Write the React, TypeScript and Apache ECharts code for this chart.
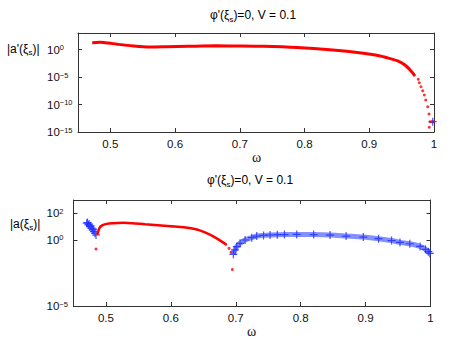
import React, { useEffect, useRef } from 'react';
import * as echarts from 'echarts';

// ---- tick values ----
const xTicks = [0.5, 0.6, 0.7, 0.8, 0.9, 1];
const topYTicks = [-15, -10, -5, 0]; // exponents of 10
const botYTicks = [-5, 0, 2];

// ---- top panel: |a'(xi_s)|, values stored as log10 ----
const topRedOmega = [0.472, 0.484, 0.497, 0.51, 0.535, 0.561, 0.587, 0.62, 0.664, 0.7, 0.736, 0.788, 0.839, 0.891, 0.917, 0.9243, 0.943, 0.9552, 0.9655, 0.9706];
const topRedLog = [1.24, 1.3, 1.18, 0.97, 0.64, 0.45, 0.5, 0.58, 0.66, 0.64, 0.58, 0.36, -0.05, -0.69, -1.18, -1.4, -2.04, -2.82, -4.04, -4.82];
const topTailOmega = [0.9757, 0.9773, 0.9799, 0.9825, 0.985, 0.9872, 0.9903, 0.9923, 0.9938, 0.9927, 0.9965, 0.998, 0.9995];
const topTailLog = [-5.42, -6.04, -6.76, -7.49, -8.27, -9.18, -10.4, -11.73, -13.13, -14.15, -13.13, -13.13, -13.13];
const topBlueOmega = [0.998];
const topBlueLog = [-13.13];

// ---- bottom panel: |a(xi_s)|, values stored as log10 ----
const botRedOmega = [0.4867, 0.4898, 0.4935, 0.5012, 0.5113, 0.5267, 0.54, 0.56, 0.58, 0.6, 0.62, 0.64, 0.6526, 0.668, 0.6784, 0.6861];
const botRedLog = [0.36, 0.87, 1.07, 1.2, 1.25, 1.28, 1.25, 1.17, 1.1, 1.02, 0.94, 0.77, 0.55, 0.18, -0.14, -0.39];
const botRedDotOmega = [0.4847, 0.6896, 0.6927, 0.6947];
const botRedDotLog = [-0.7, -0.65, -0.95, -2.24];
const botBlueLeftOmega = [0.4703, 0.4715, 0.4728, 0.474, 0.4754, 0.4766, 0.478, 0.4796, 0.4805, 0.4816, 0.4831, 0.4847];
const botBlueLeftLog = [1.25, 1.3, 1.12, 1.18, 0.99, 1.05, 0.87, 0.74, 0.8, 0.61, 0.49, 0.36];
const botBlueRightOmega = [0.6963, 0.6988, 0.7015, 0.7066, 0.7143, 0.7246, 0.7323, 0.7428, 0.7528, 0.764, 0.775, 0.7939, 0.82, 0.8452, 0.87, 0.8965, 0.92, 0.94, 0.953, 0.968, 0.984, 0.9923, 0.9967, 0.999];
const botBlueRightLog = [-1.1, -0.77, -0.52, -0.27, -0.02, 0.16, 0.28, 0.33, 0.36, 0.38, 0.39, 0.4, 0.39, 0.35, 0.28, 0.2, 0.08, -0.06, -0.2, -0.3, -0.5, -0.72, -0.9, -1.03];

const zip = (a: number[], b: number[]) => a.map((v, i) => [v, b[i]]);

const FONT = "'Liberation Sans', Arial, Helvetica, sans-serif";
const AXIS = '#333333';
const PLUS = 'path://M4.25,0H5.75V4.25H10V5.75H5.75V10H4.25V5.75H0V4.25H4.25Z';

const supRich = {
  b: { fontSize: 11.5, lineHeight: 12, verticalAlign: 'bottom', fontFamily: FONT, color: '#111' },
  s: { fontSize: 7.5, lineHeight: 2, verticalAlign: 'top', fontFamily: FONT, color: '#111' },
};
const subRich = {
  n: { fontSize: 12, lineHeight: 14, verticalAlign: 'top', fontFamily: FONT, color: '#111' },
  sub: { fontSize: 8, lineHeight: 2, verticalAlign: 'bottom', fontFamily: FONT, color: '#111' },
};

const expFmt = (v: number) => `{b|10}{s|${v < 0 ? '\u2212' + -v : v}}`;

function xAxis(grid: number, pos: 'top' | 'bottom', labels: boolean) {
  return {
    type: 'value', gridIndex: grid, position: pos, min: 0.45, max: 1,
    axisLine: { show: true, onZero: false, lineStyle: { color: AXIS, width: 1 } },
    axisTick: { show: true, inside: true, length: 4, customValues: xTicks, lineStyle: { color: AXIS } },
    axisLabel: { show: labels, customValues: xTicks, margin: 6, color: '#111', fontSize: 11.5, fontFamily: FONT },
    splitLine: { show: false },
  };
}

function yAxis(grid: number, pos: 'left' | 'right', labels: boolean, min: number, max: number, ticks: number[], margin: number) {
  return {
    type: 'value', gridIndex: grid, position: pos, min, max,
    axisLine: { show: true, onZero: false, lineStyle: { color: AXIS, width: 1 } },
    axisTick: { show: true, inside: true, length: 4, customValues: ticks, lineStyle: { color: AXIS } },
    axisLabel: { show: labels, customValues: ticks, margin, align: 'left', formatter: expFmt, rich: supRich },
    splitLine: { show: false },
  };
}

export default function App() {
  const ref = useRef<HTMLDivElement>(null);
  useEffect(() => {
    document.body.style.margin = '0';
    const chart = echarts.init(ref.current!, null, { renderer: 'svg' });
    const redDots = { type: 'scatter', symbol: 'circle', symbolSize: 3, itemStyle: { color: '#ff0000' } };
    chart.setOption({
      animation: false,
      backgroundColor: '#ffffff',
      grid: [
        { left: 78, top: 33, width: 356, height: 99 },
        { left: 73.5, top: 200, width: 357, height: 106 },
      ],
      xAxis: [xAxis(0, 'bottom', true), xAxis(0, 'top', false), xAxis(1, 'bottom', true), xAxis(1, 'top', false)],
      yAxis: [
        yAxis(0, 'left', true, -15, 3, topYTicks, 31),
        yAxis(0, 'right', false, -15, 3, topYTicks, 8),
        yAxis(1, 'left', true, -5, 3, botYTicks, 27),
        yAxis(1, 'right', false, -5, 3, botYTicks, 8),
      ],
      series: [
        { type: 'line', xAxisIndex: 0, yAxisIndex: 0, data: zip(topRedOmega, topRedLog), symbol: 'none', smooth: 0.3, lineStyle: { color: '#ff0000', width: 3 } },
        { ...redDots, xAxisIndex: 0, yAxisIndex: 0, data: zip(topTailOmega, topTailLog) },
        { type: 'scatter', xAxisIndex: 0, yAxisIndex: 0, data: zip(topBlueOmega, topBlueLog), symbol: PLUS, symbolSize: 8, itemStyle: { color: '#2a3cff', opacity: 0.85 } },
        { type: 'line', xAxisIndex: 2, yAxisIndex: 2, data: zip(botRedOmega, botRedLog), symbol: 'none', smooth: 0.3, lineStyle: { color: '#ff0000', width: 2.5 } },
        { ...redDots, xAxisIndex: 2, yAxisIndex: 2, data: zip(botRedDotOmega, botRedDotLog) },
        { type: 'scatter', xAxisIndex: 2, yAxisIndex: 2, data: zip(botBlueLeftOmega, botBlueLeftLog), symbol: PLUS, symbolSize: 8, itemStyle: { color: '#1a2cff', opacity: 0.8 } },
        { type: 'line', xAxisIndex: 2, yAxisIndex: 2, data: zip(botBlueRightOmega, botBlueRightLog), smooth: 0.3, symbol: PLUS, symbolSize: 8, showAllSymbol: true, lineStyle: { color: 'rgba(50,70,255,0.6)', width: 5 }, itemStyle: { color: '#1a2cff', opacity: 0.8 } },
      ],
      graphic: [
        { type: 'text', x: 253, y: 16, style: { text: "{n|\u03c6'(\u03be}{sub|s}{n|)=0, V = 0.1}", rich: subRich, align: 'center', verticalAlign: 'middle' } },
        { type: 'text', x: 250, y: 181, style: { text: "{n|\u03c6'(\u03be}{sub|s}{n|)=0, V = 0.1}", rich: subRich, align: 'center', verticalAlign: 'middle' } },
        { type: 'text', x: 7, y: 49.5, style: { text: "{n||a'(\u03be}{sub|s}{n|)|}", rich: subRich, align: 'left', verticalAlign: 'middle' } },
        { type: 'text', x: 10, y: 224.5, style: { text: "{n||a(\u03be}{sub|s}{n|)|}", rich: subRich, align: 'left', verticalAlign: 'middle' } },
        { type: 'text', x: 256.5, y: 157, style: { text: '\u03c9', font: "14px 'Liberation Serif', serif", fill: '#111', align: 'center', verticalAlign: 'middle' } },
        { type: 'text', x: 251.5, y: 331, style: { text: '\u03c9', font: "14px 'Liberation Serif', serif", fill: '#111', align: 'center', verticalAlign: 'middle' } },
      ],
    });
    return () => chart.dispose();
  }, []);
  return <div ref={ref} style={{ width: 460, height: 346 }} />;
}
